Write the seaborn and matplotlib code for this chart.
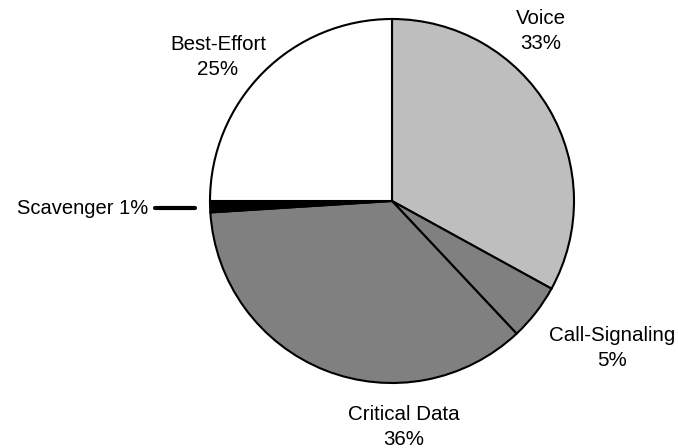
import matplotlib
matplotlib.use("Agg")
import matplotlib.pyplot as plt
import seaborn as sns

categories = ["Voice", "Call-Signaling", "Critical Data", "Scavenger", "Best-Effort"]
shares = [33, 5, 36, 1, 25]
colors = ["#bebebe", "#808080", "#808080", "#000000", "#ffffff"]

sns.set_style("white")
plt.rcParams["font.family"] = ["Liberation Sans", "DejaVu Sans"]

H = 448
fig = plt.figure(figsize=(6.78, 4.48), dpi=100)
ax = fig.add_axes([0, 0, 1, 1])
ax.pie(shares, colors=colors, startangle=90, counterclock=False,
       center=(392, H - 201), radius=182,
       wedgeprops=dict(edgecolor="black", linewidth=1.5))
ax.set_xlim(0, 678)
ax.set_ylim(0, H)
ax.set_aspect("equal")
ax.axis("off")

# labels, positions in pixels from the top-left
label_pos = {"Voice": (541, 31), "Call-Signaling": (612, 348),
             "Critical Data": (404, 427), "Best-Effort": (218, 57)}
for name, val in zip(categories, shares):
    if name in label_pos:
        x, y = label_pos[name]
        ax.text(x, H - y, f"{name}\n{val}%", ha="center", va="center", fontsize=14.8,
                linespacing=1.35, color="black", zorder=5)

ax.text(148, H - 208, f"Scavenger {shares[3]}%", ha="right", va="center",
        fontsize=14.5, color="black")
ax.plot([155, 195], [H - 208, H - 208], color="black", linewidth=3)

fig.savefig("out.png", dpi=100)
